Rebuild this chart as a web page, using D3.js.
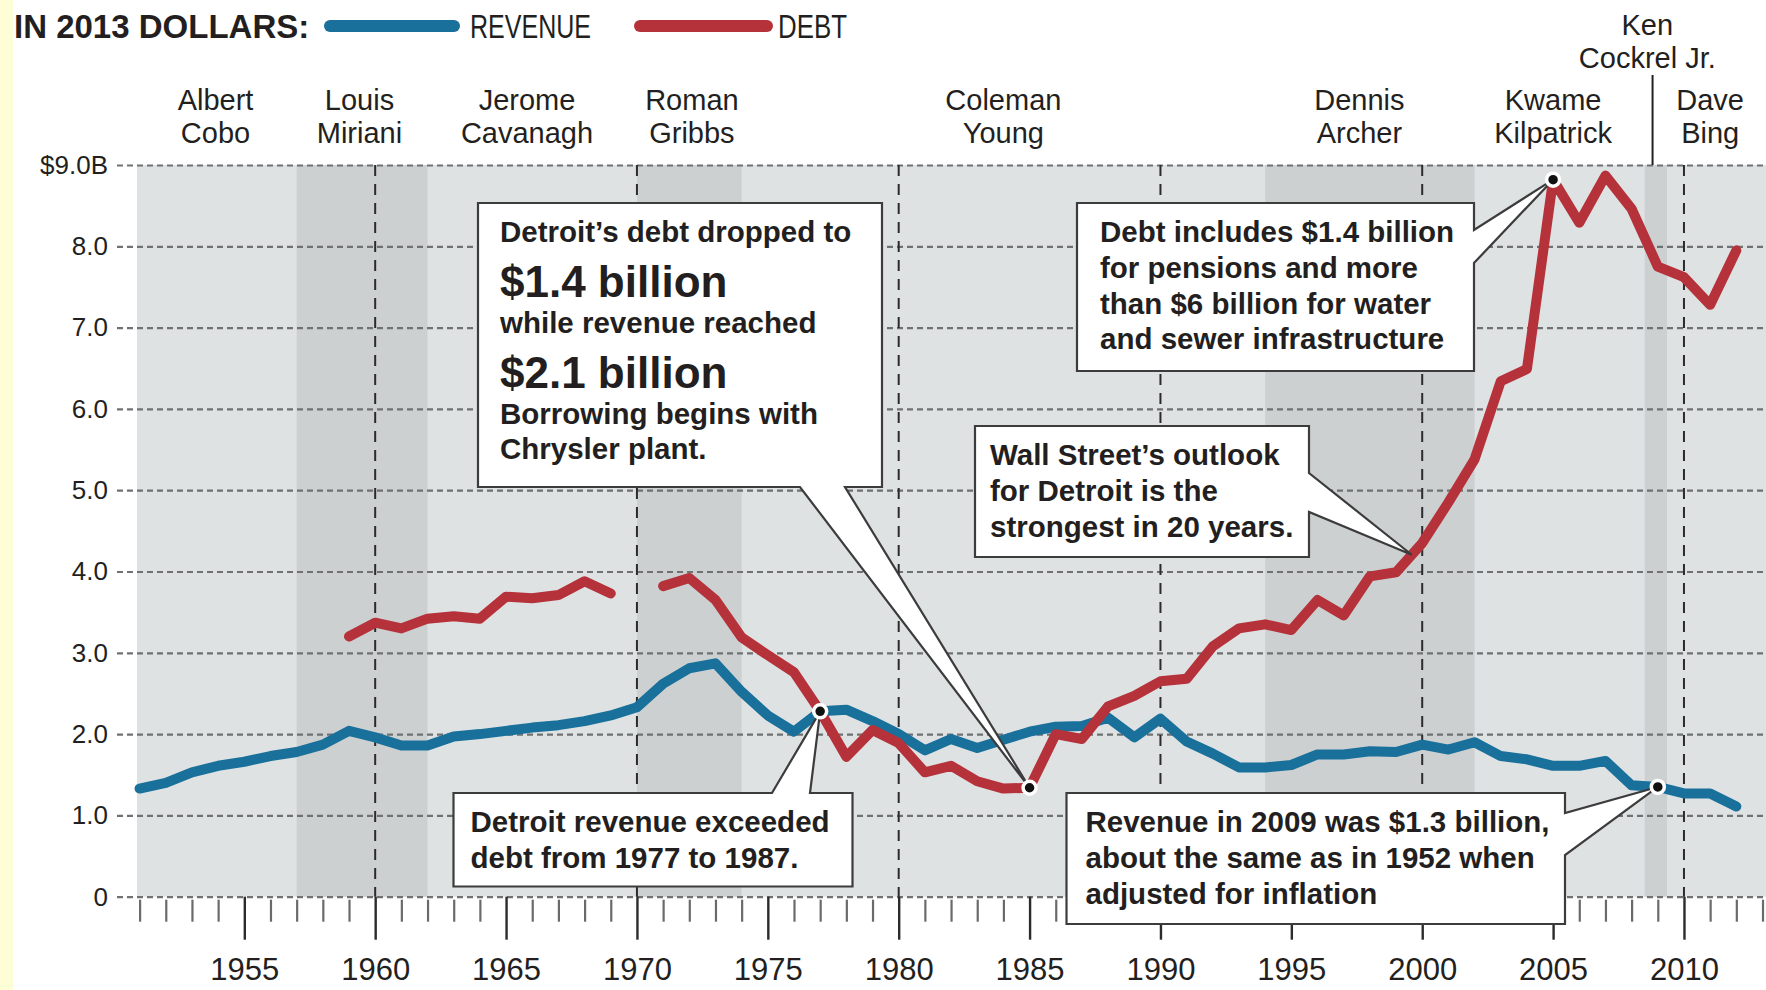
<!DOCTYPE html>
<html>
<head>
<meta charset="utf-8">
<script src="https://cdn.jsdelivr.net/npm/d3@7"></script>
<style>
  body { margin: 0; background: #fff; }
  svg { display: block; font-family: "Liberation Sans", Arial, sans-serif; }
</style>
</head>
<body>
<div id="chart"></div>
<script>
let width = 1766,
    height = 990;

// values in billions of 2013 dollars, one per year 1951-2012
const years = d3.range(1951, 2013);
const revenue = [
  1.33, 1.40, 1.53, 1.61, 1.66, 1.73, 1.78, 1.87, 2.04, 1.96,
  1.86, 1.86, 1.97, 2.00, 2.04, 2.08, 2.11, 2.16, 2.23, 2.33,
  2.62, 2.81, 2.87, 2.52, 2.23, 2.03, 2.28, 2.30, 2.16, 2.00,
  1.80, 1.94, 1.83, 1.93, 2.03, 2.09, 2.10, 2.20, 1.96, 2.19,
  1.91, 1.76, 1.59, 1.59, 1.62, 1.75, 1.75, 1.79, 1.78, 1.87,
  1.81, 1.90, 1.73, 1.69, 1.61, 1.61, 1.67, 1.37, 1.35, 1.27,
  1.27, 1.11
];
const debt = [
  null, null, null, null, null, null, null, null, 3.20, 3.37,
  3.30, 3.42, 3.45, 3.42, 3.69, 3.67, 3.71, 3.88, 3.73, null,
  3.82, 3.92, 3.65, 3.19, 2.97, 2.76, 2.28, 1.72, 2.05, 1.89,
  1.53, 1.61, 1.42, 1.33, 1.34, 2.00, 1.94, 2.34, 2.47, 2.65,
  2.68, 3.08, 3.30, 3.35, 3.28, 3.65, 3.46, 3.94, 3.99, 4.35,
  4.85, 5.38, 6.34, 6.49, 8.82, 8.29, 8.87, 8.46, 7.75, 7.62,
  7.28, 7.95
];

const yTicks = [0, 1, 2, 3, 4, 5, 6, 7, 8, 9];
const yTickLabels = ["0", "1.0", "2.0", "3.0", "4.0", "5.0", "6.0", "7.0", "8.0", "$9.0B"];
const yearTicks = d3.range(1951, 2014);
const yearLabels = [1955, 1960, 1965, 1970, 1975, 1980, 1985, 1990, 1995, 2000, 2005, 2010];
const decades = [1960, 1970, 1980, 1990, 2000, 2010];

// mayors: label names, label centre (year), darker shading for alternate terms
const mayorNames = [["Albert", "Cobo"], ["Louis", "Miriani"], ["Jerome", "Cavanagh"], ["Roman", "Gribbs"],
  ["Coleman", "Young"], ["Dennis", "Archer"], ["Kwame", "Kilpatrick"], ["Ken", "Cockrel Jr."], ["Dave", "Bing"]];
const mayorYears = [1953.9, 1959.4, 1965.8, 1972.1, 1984.0, 1997.6, 2005.0, 2008.6, 2011.0];
const shadedTerms = [[1957, 1962], [1970, 1974], [1994, 2002], [2008.5, 2009.35]];
const cockrelStart = 2008.8;

const svg = d3.select("#chart")
  .append("svg")
  .attr("width", width)
  .attr("height", height);

let x = d3.scaleLinear()
  .domain([1951, 2013])
  .range([139.6, 1762.5]);

let y = d3.scaleLinear()
  .domain([0, 9])
  .range([896.7, 165]);

// yellow page edge
svg.append("rect").attr("width", 13).attr("height", height).attr("fill", "#fefed6");

// plot background + term bands
svg.append("rect")
  .attr("x", x(1950.9)).attr("y", y(9))
  .attr("width", width - x(1950.9)).attr("height", y(0) - y(9))
  .attr("fill", "#dfe2e3");

svg.append("g").selectAll("rect")
  .data(shadedTerms)
  .join("rect")
  .attr("x", d => x(d[0]))
  .attr("y", y(9))
  .attr("width", d => x(d[1]) - x(d[0]))
  .attr("height", y(0) - y(9))
  .attr("fill", "#cdd0d1");

// horizontal grid with value labels
let yAxis = svg.append("g")
  .attr("transform", "translate(117,0)")
  .call(d3.axisLeft(y).tickValues(yTicks).tickSize(-(width - 117)).tickPadding(9)
    .tickFormat((d, i) => yTickLabels[i]));
yAxis.select(".domain").remove();
yAxis.selectAll("line")
  .attr("stroke", "#6f7173")
  .attr("stroke-width", 2.2)
  .attr("stroke-dasharray", "6,4");
yAxis.selectAll("text")
  .attr("fill", "#231f20")
  .style("font-size", "26px");

// decade lines
svg.append("g").selectAll("line")
  .data(decades)
  .join("line")
  .attr("x1", d => x(d)).attr("x2", d => x(d))
  .attr("y1", y(9)).attr("y2", y(0))
  .attr("stroke", "#2b2b2b")
  .attr("stroke-width", 2)
  .attr("stroke-dasharray", "11,8");

// bottom axis: yearly minor ticks, labelled major ticks every 5 years
let minor = svg.append("g")
  .attr("transform", `translate(0,${y(0) + 3})`)
  .call(d3.axisBottom(x).tickValues(yearTicks.filter(d => d % 5 != 0)).tickSize(22).tickFormat(""));
minor.select(".domain").remove();
minor.selectAll("line").attr("stroke", "#6a6a6a").attr("stroke-width", 2.2);

let major = svg.append("g")
  .attr("transform", `translate(0,${y(0)})`)
  .call(d3.axisBottom(x).tickValues(yearLabels).tickSize(43).tickPadding(18).tickFormat(d3.format("d")));
major.select(".domain").remove();
major.selectAll("line").attr("stroke", "#2b2b2b").attr("stroke-width", 2.4);
major.selectAll("text")
  .attr("fill", "#231f20")
  .style("font-size", "31px");

// the two series
let rows = years.map((yr, i) => ({ year: yr, revenue: revenue[i], debt: debt[i] }));

let lineFor = key => d3.line()
  .defined(d => d[key] != null)
  .x(d => x(d.year))
  .y(d => y(d[key]));

let colors = { revenue: "#18709b", debt: "#b5323b" };

for (let key of ["revenue", "debt"]) {
  svg.append("path")
    .datum(rows)
    .attr("fill", "none")
    .attr("stroke", colors[key])
    .attr("stroke-width", 10)
    .attr("stroke-linejoin", "round")
    .attr("stroke-linecap", "round")
    .attr("d", lineFor(key));
}

// mayor labels
let mayorG = svg.append("g")
  .attr("text-anchor", "middle")
  .attr("fill", "#231f20")
  .style("font-size", "29px");

mayorNames.forEach((name, i) => {
  let top = name[0] === "Ken" ? 35 : 110;
  mayorG.append("text").attr("x", x(mayorYears[i])).attr("y", top).text(name[0]);
  mayorG.append("text").attr("x", x(mayorYears[i])).attr("y", top + 33).text(name[1]);
});

svg.append("line")
  .attr("x1", x(cockrelStart)).attr("x2", x(cockrelStart))
  .attr("y1", 75).attr("y2", y(9))
  .attr("stroke", "#231f20")
  .attr("stroke-width", 2);

// title + legend
svg.append("text")
  .attr("x", 14).attr("y", 38)
  .attr("fill", "#231f20")
  .style("font-size", "33px")
  .style("font-weight", "bold")
  .text("IN 2013 DOLLARS:");

// [label, series, line start, line end, text x, text width] -- text squeezed to look condensed
let legend = [["REVENUE", "revenue", 330, 454, 470, 121], ["DEBT", "debt", 640, 767, 778, 69]];
for (let [label, key, x1, x2, tx, tw] of legend) {
  svg.append("line")
    .attr("x1", x1).attr("x2", x2)
    .attr("y1", 26).attr("y2", 26)
    .attr("stroke", colors[key])
    .attr("stroke-width", 12)
    .attr("stroke-linecap", "round");
  svg.append("text")
    .attr("x", tx).attr("y", 38)
    .attr("fill", "#231f20")
    .attr("textLength", tw)
    .attr("lengthAdjust", "spacingAndGlyphs")
    .style("font-size", "34px")
    .text(label);
}

// callouts
function valueAt(key, yr) {
  let i = years.indexOf(Math.floor(yr));
  let a = rows[i][key], b = rows[Math.min(i + 1, rows.length - 1)][key];
  return a + (b - a) * (yr - Math.floor(yr));
}

let notes = [
  { lines: [["Detroit’s debt dropped to"], ["$1.4 billion", 1], ["while revenue reached"], ["$2.1 billion", 1],
      ["Borrowing begins with"], ["Chrysler plant."]],
    box: [478, 203, 882, 487], pad: 22, side: "bottom", base: [800, 845], at: ["debt", 1985], dot: true },
  { lines: [["Detroit revenue exceeded"], ["debt from 1977 to 1987."]],
    box: [453.5, 793, 852.5, 886.5], pad: 17, side: "top", base: [772, 810], at: ["revenue", 1977], dot: true },
  { lines: [["Debt includes $1.4 billion"], ["for pensions and more"], ["than $6 billion for water"], ["and sewer infrastructure"]],
    box: [1077, 203, 1474, 371], pad: 23, side: "right", base: [230, 263], at: ["debt", 2005], dot: true },
  { lines: [["Wall Street’s outlook"], ["for Detroit is the"], ["strongest in 20 years."]],
    box: [975, 426, 1309, 557], pad: 15, side: "right", base: [473, 512], at: ["debt", 1999.6], dot: false },
  { lines: [["Revenue in 2009 was $1.3 billion,"], ["about the same as in 1952 when"], ["adjusted for inflation"]],
    box: [1066.5, 793, 1565, 924], pad: 19, side: "right", base: [813, 855], at: ["revenue", 2009], dot: true }
];

function notePath(b, side, base, tp) {
  let [l, t, r, btm] = b;
  if (side === "bottom") return `M${l},${t}H${r}V${btm}H${base[1]}L${tp[0]},${tp[1]}L${base[0]},${btm}H${l}Z`;
  if (side === "top") return `M${l},${t}H${base[0]}L${tp[0]},${tp[1]}L${base[1]},${t}H${r}V${btm}H${l}Z`;
  return `M${l},${t}H${r}V${base[0]}L${tp[0]},${tp[1]}L${r},${base[1]}V${btm}H${l}Z`;
}

let dots = [];
for (let n of notes) {
  let tp = [x(n.at[1]), y(valueAt(n.at[0], n.at[1]))];
  if (n.dot) dots.push(tp);

  let g = svg.append("g");
  g.append("path")
    .attr("d", notePath(n.box, n.side, n.base, tp))
    .attr("fill", "#fff")
    .attr("stroke", "#3c3c3c")
    .attr("stroke-width", 2.2);

  let ty = n.box[1] + 39;
  n.lines.forEach(([t, big], i) => {
    if (i > 0) ty += big ? 55 : 35.8; // big lines need extra room
    g.append("text")
      .attr("x", n.box[0] + n.pad)
      .attr("y", ty)
      .attr("fill", "#231f20")
      .style("font-weight", "bold")
      .style("font-size", big ? "44px" : "29.5px")
      .text(t);
  });
}

svg.append("g").selectAll("circle")
  .data(dots)
  .join("circle")
  .attr("cx", d => d[0])
  .attr("cy", d => d[1])
  .attr("r", 6.5)
  .attr("fill", "#111")
  .attr("stroke", "#fff")
  .attr("stroke-width", 3.5);
</script>
</body>
</html>
